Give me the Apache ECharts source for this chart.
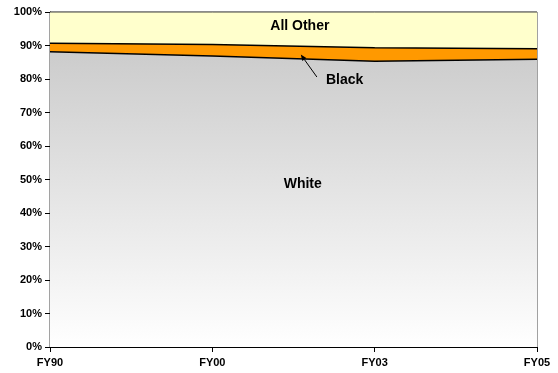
<!DOCTYPE html>
<html>
<head>
<meta charset="utf-8">
<script src="https://cdn.jsdelivr.net/npm/echarts@6/dist/echarts.min.js"></script>
<style>
  html, body { margin: 0; padding: 0; background: #ffffff; }
  #chart { width: 558px; height: 373px; }
</style>
</head>
<body>
<div id="chart"></div>
<script>
// Fiscal years along the horizontal axis
var categories = ['FY90', 'FY00', 'FY03', 'FY05'];
// Share of total (%), stacked bottom to top
var whiteShare = [88.1, 86.9, 85.3, 85.9];
var blackShare = [2.6, 3.4, 4.0, 3.1];
var otherShare = [9.3, 9.7, 10.7, 11.0];
// Vertical axis ticks
var yTicks = [0, 10, 20, 30, 40, 50, 60, 70, 80, 90, 100];

var chart = echarts.init(document.getElementById('chart'), null, { renderer: 'canvas' });

var font = 'Liberation Sans, Arial, sans-serif';

var option = {
  backgroundColor: '#ffffff',
  animation: false,
  grid: { left: 50, right: 21, top: 12, bottom: 26, show: true, borderColor: '#444444', borderWidth: 1, backgroundColor: 'transparent' },
  xAxis: {
    type: 'category',
    data: categories,
    boundaryGap: false,
    axisLine: { lineStyle: { color: '#000000', width: 1 } },
    axisTick: { show: true, alignWithLabel: true, length: 5, lineStyle: { color: '#000000' } },
    axisLabel: { color: '#000000', fontFamily: font, fontWeight: 'bold', fontSize: 11, margin: 10 },
    splitLine: { show: false }
  },
  yAxis: {
    type: 'value',
    min: yTicks[0],
    max: yTicks[yTicks.length - 1],
    interval: yTicks[1] - yTicks[0],
    axisLine: { show: true, lineStyle: { color: '#000000', width: 1 } },
    axisTick: { show: true, length: 5, lineStyle: { color: '#000000' } },
    axisLabel: { color: '#000000', fontFamily: font, fontWeight: 'bold', fontSize: 11, margin: 8, formatter: '{value}%' },
    splitLine: { show: false }
  },
  series: [
    {
      name: 'White',
      type: 'line',
      stack: 'share',
      data: whiteShare,
      symbol: 'none',
      lineStyle: { color: '#000000', width: 1.5 },
      areaStyle: {
        opacity: 1,
        color: new echarts.graphic.LinearGradient(0, 0, 0, 1, [
          { offset: 0, color: '#cccccc' },
          { offset: 1, color: '#ffffff' }
        ])
      },
      z: 3
    },
    {
      name: 'Black',
      type: 'line',
      stack: 'share',
      data: blackShare,
      symbol: 'none',
      lineStyle: { color: '#000000', width: 1.5 },
      areaStyle: { opacity: 1, color: '#ff9900' },
      z: 2
    },
    {
      name: 'All Other',
      type: 'line',
      stack: 'share',
      data: otherShare,
      symbol: 'none',
      lineStyle: { color: '#444444', width: 1 },
      areaStyle: { opacity: 1, color: '#ffffcc' },
      z: 1
    }
  ]
};

chart.setOption(option);

// Series annotations: position by fraction across the category span and by value
var first = chart.convertToPixel({ xAxisIndex: 0, yAxisIndex: 0 }, [0, 0]);
var last = chart.convertToPixel({ xAxisIndex: 0, yAxisIndex: 0 }, [categories.length - 1, 100]);
function px(frac, val) {
  var y = chart.convertToPixel({ yAxisIndex: 0 }, val);
  return [first[0] + (last[0] - first[0]) * frac, y];
}
var labelStyle = { fontFamily: font, fontWeight: 'bold', fontSize: 14, fill: '#000000', align: 'center', verticalAlign: 'middle' };
var pOther = px(0.513, 95.8);
var pWhite = px(0.519, 48.5);
var pBlack = px(0.605, 79.6);
var arrowFrom = px(0.548, 80.6);
var arrowTo = px(0.515, 87.3);

var dx = arrowTo[0] - arrowFrom[0], dy = arrowTo[1] - arrowFrom[1];
var len = Math.sqrt(dx * dx + dy * dy);
var ux = dx / len, uy = dy / len;
var head = 6, wing = 2.5;
var hb = [arrowTo[0] - ux * head, arrowTo[1] - uy * head];

chart.setOption({
  graphic: [
    { type: 'text', x: pOther[0], y: pOther[1], style: Object.assign({ text: 'All Other' }, labelStyle), z: 100 },
    { type: 'text', x: pWhite[0], y: pWhite[1], style: Object.assign({ text: 'White' }, labelStyle), z: 100 },
    { type: 'text', x: pBlack[0], y: pBlack[1], style: Object.assign({ text: 'Black' }, labelStyle), z: 100 },
    { type: 'line', shape: { x1: arrowFrom[0], y1: arrowFrom[1], x2: hb[0], y2: hb[1] }, style: { stroke: '#000000', lineWidth: 1 }, z: 100 },
    { type: 'polygon', shape: { points: [
        arrowTo,
        [hb[0] - uy * wing, hb[1] + ux * wing],
        [hb[0] + uy * wing, hb[1] - ux * wing]
      ] }, style: { fill: '#000000' }, z: 100 }
  ]
});
</script>
</body>
</html>
